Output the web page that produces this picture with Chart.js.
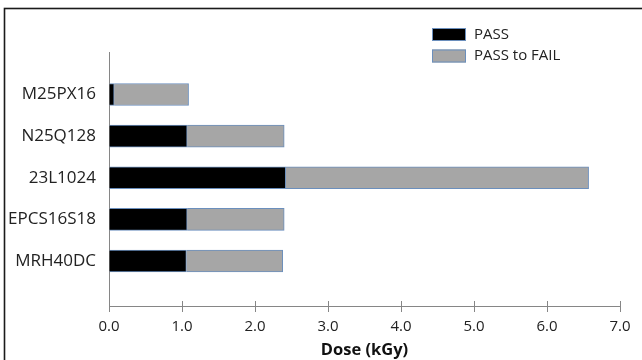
<!DOCTYPE html>
<html>
<head>
<meta charset="utf-8">
<script src="https://cdn.jsdelivr.net/npm/chart.js@4/dist/chart.umd.min.js"></script>
<style>
  html, body { margin: 0; padding: 0; background: #fff; }
  #wrap { width: 642px; height: 360px; }
</style>
</head>
<body>
<div id="wrap"><canvas id="c"></canvas></div>
<script>
// devices, top to bottom
const devices = ['M25PX16', 'N25Q128', '23L1024', 'EPCS16S18', 'MRH40DC'];
// dose (kGy) still passing
const passDose = [0.07, 1.07, 2.42, 1.07, 1.06];
// extra dose between last pass and first fail
const passToFail = [1.02, 1.33, 4.15, 1.33, 1.32];
const xTicks = [0, 1, 2, 3, 4, 5, 6, 7];

const edge = '#6b8fbd';
const txt = '#222222';
const axisCol = '#868686';

const toPoints = (vals) => vals.map((v, i) => ({ x: v, y: i }));

// outer frame (only top and left edges show)
const framePlugin = {
  id: 'frame',
  beforeDraw(chart) {
    const ctx = chart.ctx;
    ctx.save();
    ctx.strokeStyle = '#1a1a1a';
    ctx.lineWidth = 1.6;
    ctx.strokeRect(4.5, 8.5, 800, 500);
    ctx.restore();
  }
};

// small legend in upper right, stacked
const legendPlugin = {
  id: 'boxLegend',
  afterDraw(chart) {
    const ctx = chart.ctx;
    ctx.save();
    ctx.font = '15px "Open Sans"';
    ctx.textBaseline = 'middle';
    chart.data.datasets.forEach((ds, i) => {
      const y = 28 + i * 21.5;
      ctx.fillStyle = ds.backgroundColor;
      ctx.fillRect(432, y, 34, 13);
      ctx.strokeStyle = edge;
      ctx.lineWidth = 1;
      ctx.strokeRect(432.5, y + 0.5, 33, 12);
      ctx.fillStyle = txt;
      ctx.fillText(ds.label, 474, y + 6.5);
    });
    ctx.restore();
  }
};

// excel style cross ticks on the x axis
const crossTicks = {
  id: 'crossTicks',
  afterDraw(chart) {
    const xs = chart.scales.x;
    const ctx = chart.ctx;
    ctx.save();
    ctx.strokeStyle = axisCol;
    ctx.lineWidth = 1;
    xTicks.forEach((t) => {
      const px = Math.round(xs.getPixelForValue(t)) + 0.5;
      ctx.beginPath();
      ctx.moveTo(px, xs.top - 5);
      ctx.lineTo(px, xs.top);
      ctx.stroke();
    });
    ctx.restore();
  }
};

new Chart(document.getElementById('c'), {
  type: 'bar',
  data: {
    datasets: [
      {
        label: 'PASS',
        data: toPoints(passDose),
        backgroundColor: '#000000',
        borderColor: edge,
        borderWidth: 1,
        barThickness: 22,
      },
      {
        label: 'PASS to FAIL',
        data: toPoints(passToFail),
        backgroundColor: '#a6a6a6',
        borderColor: edge,
        borderWidth: 1,
        barThickness: 22,
      },
    ],
  },
  options: {
    indexAxis: 'y',
    responsive: true,
    maintainAspectRatio: false,
    animation: false,
    layout: { padding: { left: 0, top: 52, right: 22, bottom: 0 } },
    plugins: {
      legend: { display: false },
      tooltip: { enabled: false },
    },
    scales: {
      x: {
        type: 'linear',
        stacked: true,
        min: 0,
        max: 7,
        afterBuildTicks: (s) => { s.ticks = xTicks.map((v) => ({ value: v })); },
        afterFit: (s) => { s.height = 54; },
        ticks: {
          color: txt,
          font: { family: 'Open Sans', size: 15 },
          padding: 6,
          maxRotation: 0,
          callback: (v) => Number(v).toFixed(1),
        },
        grid: { drawOnChartArea: false, color: axisCol, tickLength: 6 },
        border: { color: axisCol },
        title: {
          display: true,
          text: 'Dose (kGy)',
          color: '#111111',
          font: { family: 'Open Sans', size: 16.5, weight: 'bold' },
          padding: { top: 0, bottom: 0 },
        },
      },
      y: {
        type: 'linear',
        stacked: true,
        reverse: true,
        offset: false,
        min: -1.02,
        max: 5.08,
        afterBuildTicks: (s) => { s.ticks = devices.map((_, i) => ({ value: i })); },
        afterFit: (s) => { s.width = 109; },
        ticks: {
          color: txt,
          font: { family: 'Open Sans', size: 17 },
          padding: 13,
          callback: (v) => devices[v] || '',
        },
        grid: { display: false, drawTicks: false },
        border: { color: axisCol },
      },
    },
  },
  plugins: [framePlugin, legendPlugin, crossTicks],
});
</script>
</body>
</html>
